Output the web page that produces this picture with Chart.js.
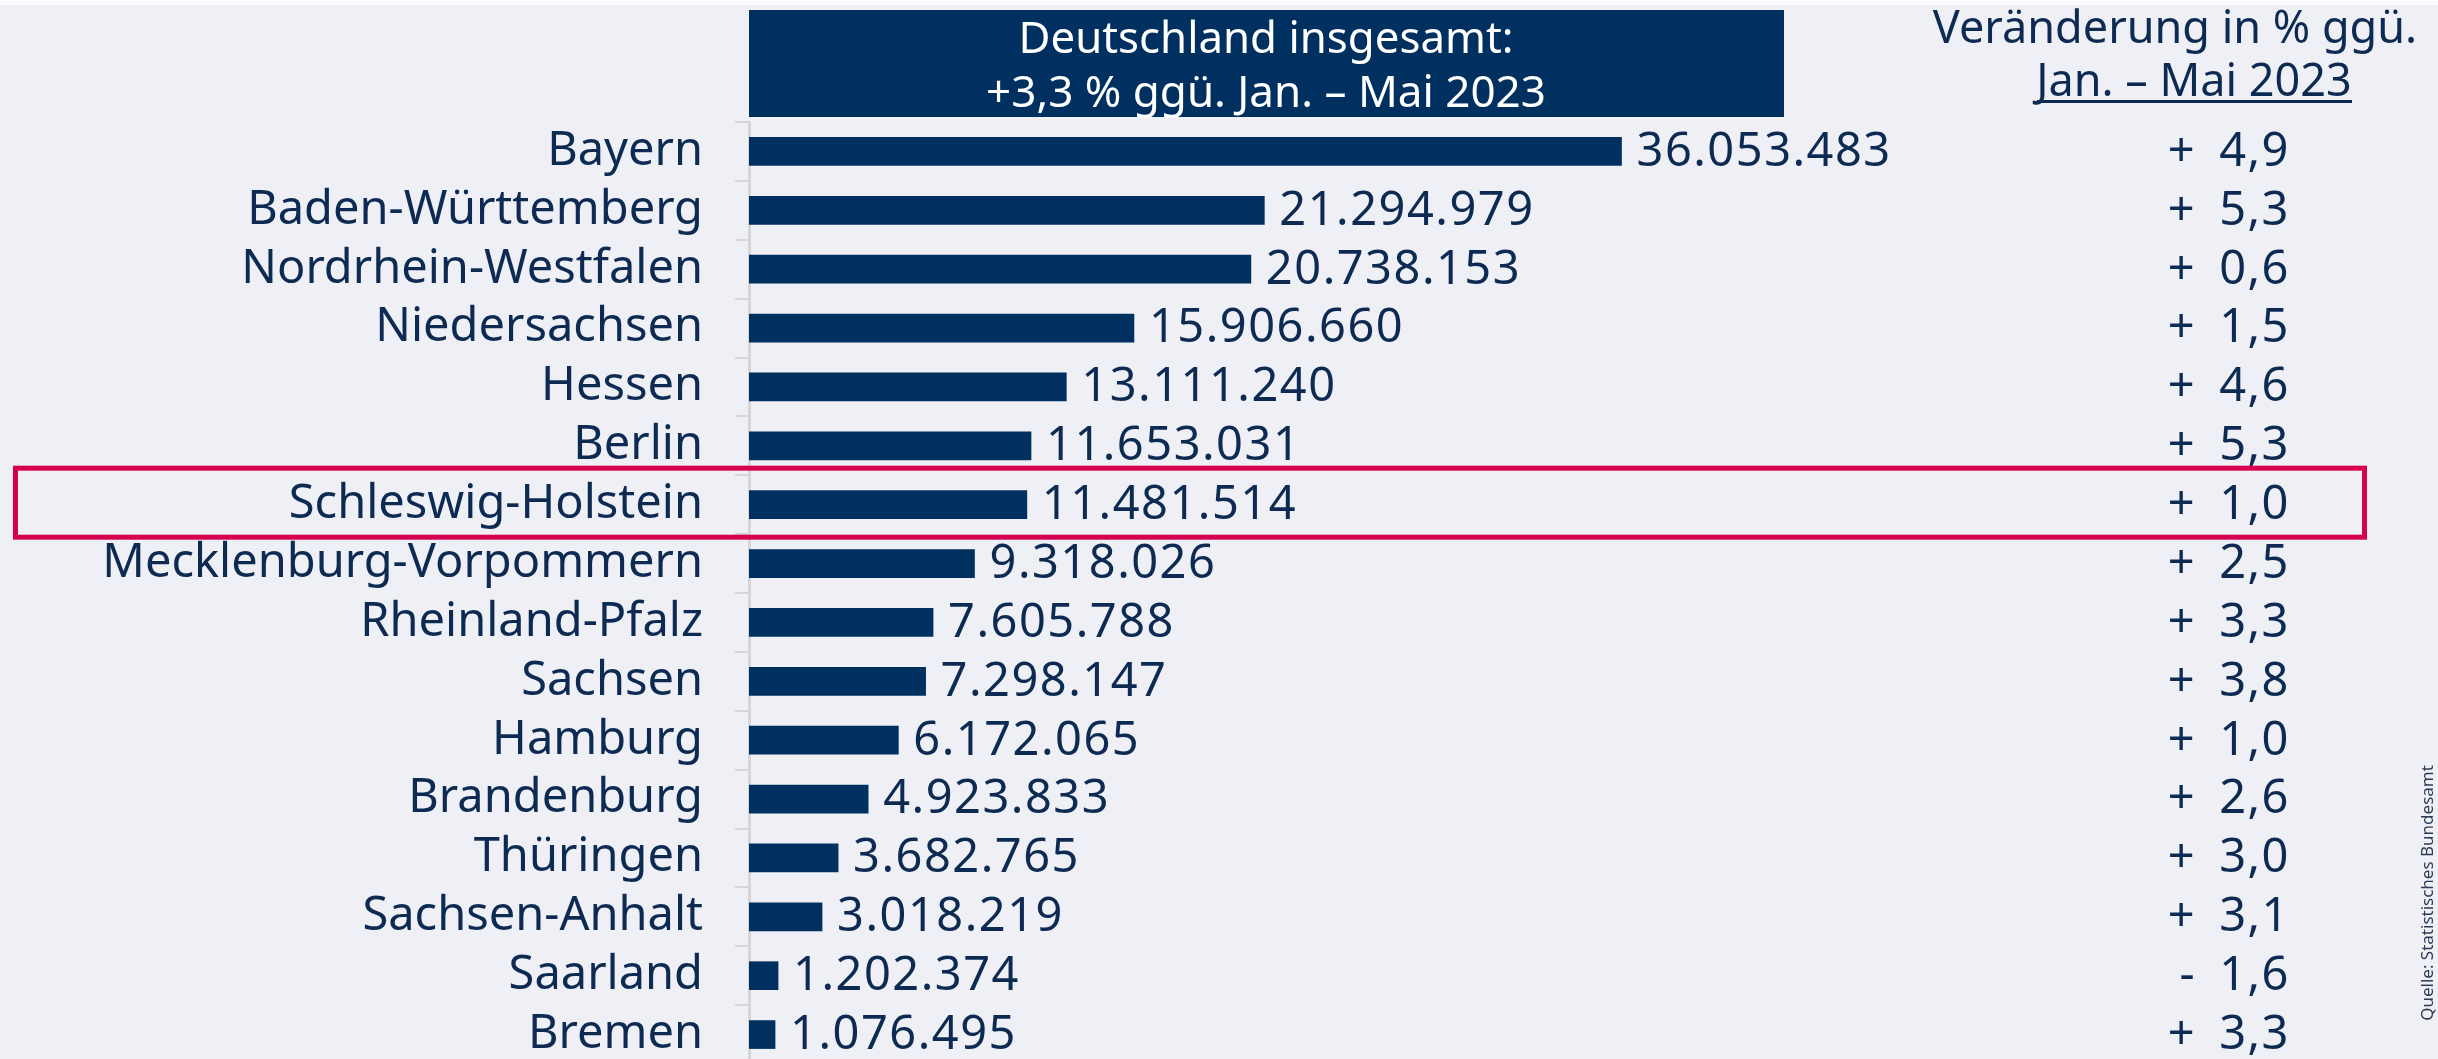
<!DOCTYPE html>
<html>
<head>
<meta charset="utf-8">
<script src="https://cdn.jsdelivr.net/npm/chart.js@4.4.1/dist/chart.umd.min.js"></script>
<style>
  html, body { margin: 0; padding: 0; overflow: hidden; background: #eff0f6; }
  canvas { display: block; }
</style>
</head>
<body>
<canvas id="myChart" width="2438" height="1064"></canvas>
<script>
// categories
const laender = ["Bayern", "Baden-Württemberg", "Nordrhein-Westfalen", "Niedersachsen", "Hessen",
  "Berlin", "Schleswig-Holstein", "Mecklenburg-Vorpommern", "Rheinland-Pfalz", "Sachsen",
  "Hamburg", "Brandenburg", "Thüringen", "Sachsen-Anhalt", "Saarland", "Bremen"];

// Übernachtungen Jan. - Mai 2024
const naechte = [36053483, 21294979, 20738153, 15906660, 13111240, 11653031, 11481514, 9318026,
  7605788, 7298147, 6172065, 4923833, 3682765, 3018219, 1202374, 1076495];

// Veränderung in % ggü. Jan. - Mai 2023
const veraenderung = [4.9, 5.3, 0.6, 1.5, 4.6, 5.3, 1.0, 2.5, 3.3, 3.8, 1.0, 2.6, 3.0, 3.1, -1.6, 3.3];

const highlight = "Schleswig-Holstein";

const navy = "#00305f";
const textCol = "#0c2a52";
const font = "'Noto Sans', sans-serif";

function fmtNum(v) {
  return String(v).replace(/\B(?=(\d{3})+(?!\d))/g, ".");
}
function fmtPct(p) {
  // wider gap after the sign, like the original font
  return (p >= 0 ? "+" : "-") + " \u2009" + Math.abs(p).toFixed(1).replace(".", ",");
}

// draws value labels, percent column, header boxes
const annotations = {
  id: "annotations",
  beforeDraw(chart) {
    const ctx = chart.ctx;
    ctx.save();
    ctx.fillStyle = "#fbfbfd";
    ctx.fillRect(0, 0, chart.width, 5);
    ctx.restore();
  },
  afterDatasetsDraw(chart) {
    const ctx = chart.ctx;
    const x = chart.scales.x;
    const y = chart.scales.y;
    ctx.save();

    // bar values + percent column
    ctx.font = "47px " + font;
    ctx.letterSpacing = "1.5px";
    ctx.fillStyle = textCol;
    ctx.textBaseline = "middle";
    naechte.forEach((v, i) => {
      const py = y.getPixelForValue(i);
      ctx.textAlign = "left";
      ctx.fillText(fmtNum(v), x.getPixelForValue(v) + 15, py + 1);
      ctx.textAlign = "right";
      ctx.fillText(fmtPct(veraenderung[i]), 2290, py + 1);
    });
    ctx.letterSpacing = "0px";

    // highlight frame
    const hy = y.getPixelForValue(laender.indexOf(highlight));
    ctx.strokeStyle = "#d6004f";
    ctx.lineWidth = 5;
    ctx.strokeRect(15.5, hy - 36.5, 2349, 69);

    // Deutschland box
    ctx.fillStyle = navy;
    ctx.fillRect(chart.chartArea.left, 10, 1784 - chart.chartArea.left, 107);
    ctx.fillStyle = "#ffffff";
    ctx.textAlign = "center";
    ctx.textBaseline = "alphabetic";
    ctx.font = "44px " + font;
    ctx.fillText("Deutschland insgesamt:", 1266, 53, 495);
    ctx.fillText("+3,3 % ggü. Jan. – Mai 2023", 1266, 107, 575);

    // header right
    ctx.fillStyle = textCol;
    ctx.font = "45px " + font;
    ctx.fillText("Veränderung in % ggü.", 2175, 43);
    ctx.fillText("Jan. – Mai 2023", 2194, 96);
    ctx.fillRect(2037, 100, 315, 3);

    // source
    ctx.translate(2428, 893);
    ctx.rotate(-Math.PI / 2);
    ctx.font = "17px " + font;
    ctx.fillStyle = "#2b3a55";
    ctx.textBaseline = "middle";
    ctx.fillText("Quelle: Statistisches Bundesamt", 0, 0);
    ctx.restore();
  }
};

const data = {
  labels: laender,
  datasets: [
    {
      label: "Übernachtungen",
      data: naechte,
      backgroundColor: navy,
      barThickness: 28,
    },
  ],
};

const config = {
  type: "bar",
  data: data,
  options: {
    indexAxis: "y",
    responsive: false,
    animation: false,
    layout: {
      padding: { top: 122, bottom: 0, left: 0, right: 237 },
    },
    plugins: {
      legend: { display: false },
      tooltip: { enabled: false },
    },
    scales: {
      x: {
        display: false,
        min: 0,
        max: 60000000,
      },
      y: {
        afterFit(scale) {
          scale.width = 749;
          scale.paddingTop = 0;
          scale.paddingBottom = 0;
        },
        grid: {
          offset: true,
          drawOnChartArea: false,
          drawTicks: true,
          tickLength: 14,
          color: "#d6d6d9",
          lineWidth: 2,
        },
        border: { display: true, color: "#d6d6d9", width: 3 },
        ticks: {
          autoSkip: false,
          padding: 32,
          color: textCol,
          font: { family: "'Noto Sans', sans-serif", size: 47 },
        },
      },
    },
  },
  plugins: [annotations],
};

const myChart = new Chart(document.getElementById("myChart"), config);
</script>
</body>
</html>
